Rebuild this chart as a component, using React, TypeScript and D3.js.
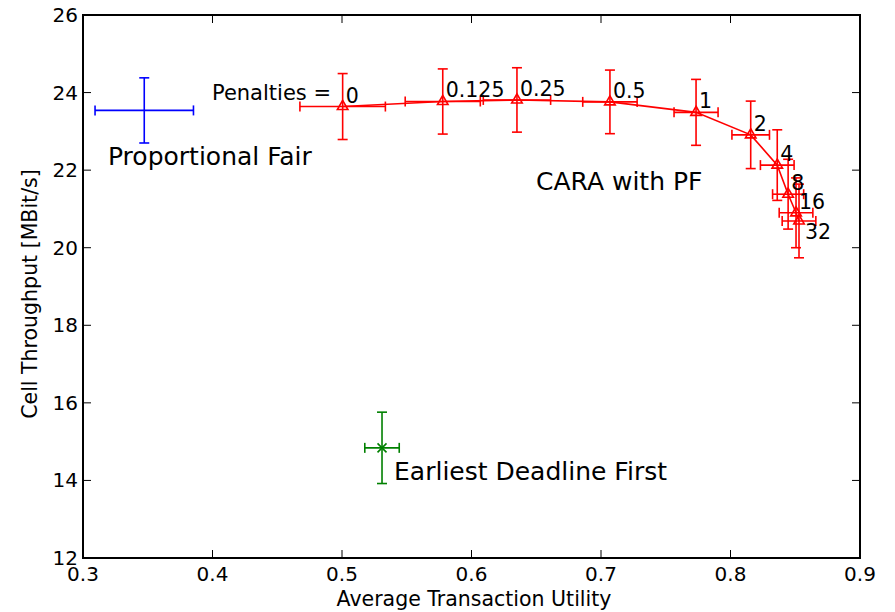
import { useEffect, useRef } from "react";
import * as d3 from "d3";

// CARA with PF, one point per penalty value
const penalties = ["0", "0.125", "0.25", "0.5", "1", "2", "4", "8", "16", "32"];
const caraUtility = [0.5005, 0.5778, 0.6351, 0.7069, 0.7734, 0.8156, 0.8361, 0.8445, 0.8506, 0.8529];
const caraUtilityErr = [0.033, 0.029, 0.026, 0.021, 0.017, 0.0145, 0.013, 0.012, 0.013, 0.013];
const caraThroughput = [23.64, 23.77, 23.81, 23.76, 23.49, 22.91, 22.13, 21.38, 20.9, 20.69];
const caraThroughputErr = [0.85, 0.84, 0.83, 0.82, 0.85, 0.87, 0.91, 0.9, 0.9, 0.95];

// single reference schedulers
const pfUtility = [0.3473];
const pfUtilityErr = [0.038];
const pfThroughput = [23.54];
const pfThroughputErr = [0.84];

const edfUtility = [0.5309];
const edfUtilityErr = [0.0133];
const edfThroughput = [14.84];
const edfThroughputErr = [0.92];

const xTicks = [0.3, 0.4, 0.5, 0.6, 0.7, 0.8, 0.9];
const yTicks = [12, 14, 16, 18, 20, 22, 24, 26];

export default function App() {
  const svgRef = useRef<SVGSVGElement>(null);

  useEffect(() => {
    const width = 895;
    const height = 612;
    const margin = { left: 83, right: 35, top: 15, bottom: 54 };
    const font = "DejaVu Sans, sans-serif";

    const svg = d3.select(svgRef.current);
    svg.selectAll("*").remove();

    const x = d3.scaleLinear().domain([0.3, 0.9]).range([margin.left, width - margin.right]);
    const y = d3.scaleLinear().domain([12, 26]).range([height - margin.bottom, margin.top]);

    // ticks inside on all four sides
    const tickLen = 8;
    const g = svg.append("g").attr("stroke", "#000").attr("stroke-width", 1);
    xTicks.forEach((t) => {
      g.append("line").attr("x1", x(t)).attr("x2", x(t)).attr("y1", y(12)).attr("y2", y(12) - tickLen);
      g.append("line").attr("x1", x(t)).attr("x2", x(t)).attr("y1", y(26)).attr("y2", y(26) + tickLen);
    });
    yTicks.forEach((t) => {
      g.append("line").attr("x1", x(0.3)).attr("x2", x(0.3) + tickLen).attr("y1", y(t)).attr("y2", y(t));
      g.append("line").attr("x1", x(0.9)).attr("x2", x(0.9) - tickLen).attr("y1", y(t)).attr("y2", y(t));
    });

    svg
      .append("g")
      .selectAll("text")
      .data(xTicks)
      .join("text")
      .attr("x", (d) => x(d))
      .attr("y", y(12) + 23)
      .attr("text-anchor", "middle")
      .attr("font-family", font)
      .attr("font-size", 20)
      .text((d) => d3.format(".1f")(d));

    svg
      .append("g")
      .selectAll("text")
      .data(yTicks)
      .join("text")
      .attr("x", x(0.3) - 5)
      .attr("y", (d) => y(d) + 7)
      .attr("text-anchor", "end")
      .attr("font-family", font)
      .attr("font-size", 20)
      .text((d) => d);

    svg
      .append("text")
      .attr("x", 474)
      .attr("y", 606)
      .attr("text-anchor", "middle")
      .attr("font-family", font)
      .attr("font-size", 20.5)
      .text("Average Transaction Utility");

    svg
      .append("text")
      .attr("transform", `translate(37,294) rotate(-90)`)
      .attr("text-anchor", "middle")
      .attr("font-family", font)
      .attr("font-size", 20.5)
      .text("Cell Throughput [MBit/s]");

    const cap = 5;
    const errorBars = (
      xs: number[],
      xe: number[],
      ys: number[],
      ye: number[],
      color: string
    ) => {
      const eg = svg.append("g").attr("stroke", color).attr("stroke-width", 1.6).attr("fill", "none");
      xs.forEach((xv, i) => {
        const cx = x(xv);
        const cy = y(ys[i]);
        const top = y(ys[i] + ye[i]);
        const bot = y(ys[i] - ye[i]);
        const l = x(xv - xe[i]);
        const r = x(xv + xe[i]);
        eg.append("line").attr("x1", cx).attr("x2", cx).attr("y1", top).attr("y2", bot);
        eg.append("line").attr("x1", cx - cap).attr("x2", cx + cap).attr("y1", top).attr("y2", top);
        eg.append("line").attr("x1", cx - cap).attr("x2", cx + cap).attr("y1", bot).attr("y2", bot);
        eg.append("line").attr("x1", l).attr("x2", r).attr("y1", cy).attr("y2", cy);
        eg.append("line").attr("x1", l).attr("x2", l).attr("y1", cy - cap).attr("y2", cy + cap);
        eg.append("line").attr("x1", r).attr("x2", r).attr("y1", cy - cap).attr("y2", cy + cap);
      });
      return eg;
    };

    // Proportional Fair
    errorBars(pfUtility, pfUtilityErr, pfThroughput, pfThroughputErr, "#0000ff");

    // Earliest Deadline First
    const edf = errorBars(edfUtility, edfUtilityErr, edfThroughput, edfThroughputErr, "#008000");
    edfUtility.forEach((xv, i) => {
      const cx = x(xv);
      const cy = y(edfThroughput[i]);
      const s = 4.5;
      edf.append("path").attr("d", `M${cx - s},${cy - s}L${cx + s},${cy + s}M${cx - s},${cy + s}L${cx + s},${cy - s}`);
    });

    // CARA with PF
    const cara = errorBars(caraUtility, caraUtilityErr, caraThroughput, caraThroughputErr, "#ff0000");
    const line = d3
      .line<number>()
      .x((d) => x(d))
      .y((_, i) => y(caraThroughput[i]));
    cara.append("path").attr("d", line(caraUtility));
    const tri = d3.symbol().type(d3.symbolTriangle).size(48);
    caraUtility.forEach((xv, i) => {
      cara
        .append("path")
        .attr("d", tri())
        .attr("transform", `translate(${x(xv)},${y(caraThroughput[i])})`)
        .attr("fill", "none");
    });

    svg
      .append("g")
      .selectAll("text")
      .data(penalties)
      .join("text")
      .attr("x", (d, i) => x(caraUtility[i]) + (d === "32" ? 6 : 3))
      .attr("y", (d, i) => y(caraThroughput[i]) + (d === "32" ? 18 : -4))
      .attr("font-family", font)
      .attr("font-size", 20.5)
      .text((d) => d);

    const notes = [
      { t: "Penalties =", x: 0.3996, y: 23.8, s: 21 },
      { t: "Proportional Fair", x: 0.3193, y: 22.13, s: 25 },
      { t: "CARA with PF", x: 0.6498, y: 21.49, s: 25 },
      { t: "Earliest Deadline First", x: 0.5402, y: 14.01, s: 25 },
    ];
    svg
      .append("g")
      .selectAll("text")
      .data(notes)
      .join("text")
      .attr("x", (d) => x(d.x))
      .attr("y", (d) => y(d.y))
      .attr("font-family", font)
      .attr("font-size", (d) => d.s)
      .text((d) => d.t);

    // axes frame
    svg
      .append("rect")
      .attr("x", x(0.3))
      .attr("y", y(26))
      .attr("width", x(0.9) - x(0.3))
      .attr("height", y(12) - y(26))
      .attr("fill", "none")
      .attr("stroke", "#000")
      .attr("stroke-width", 2);
  }, []);

  return (
    <div style={{ position: "absolute", left: 0, top: 0 }}>
      <svg ref={svgRef} width={895} height={612} style={{ display: "block", background: "#fff" }} />
    </div>
  );
}
